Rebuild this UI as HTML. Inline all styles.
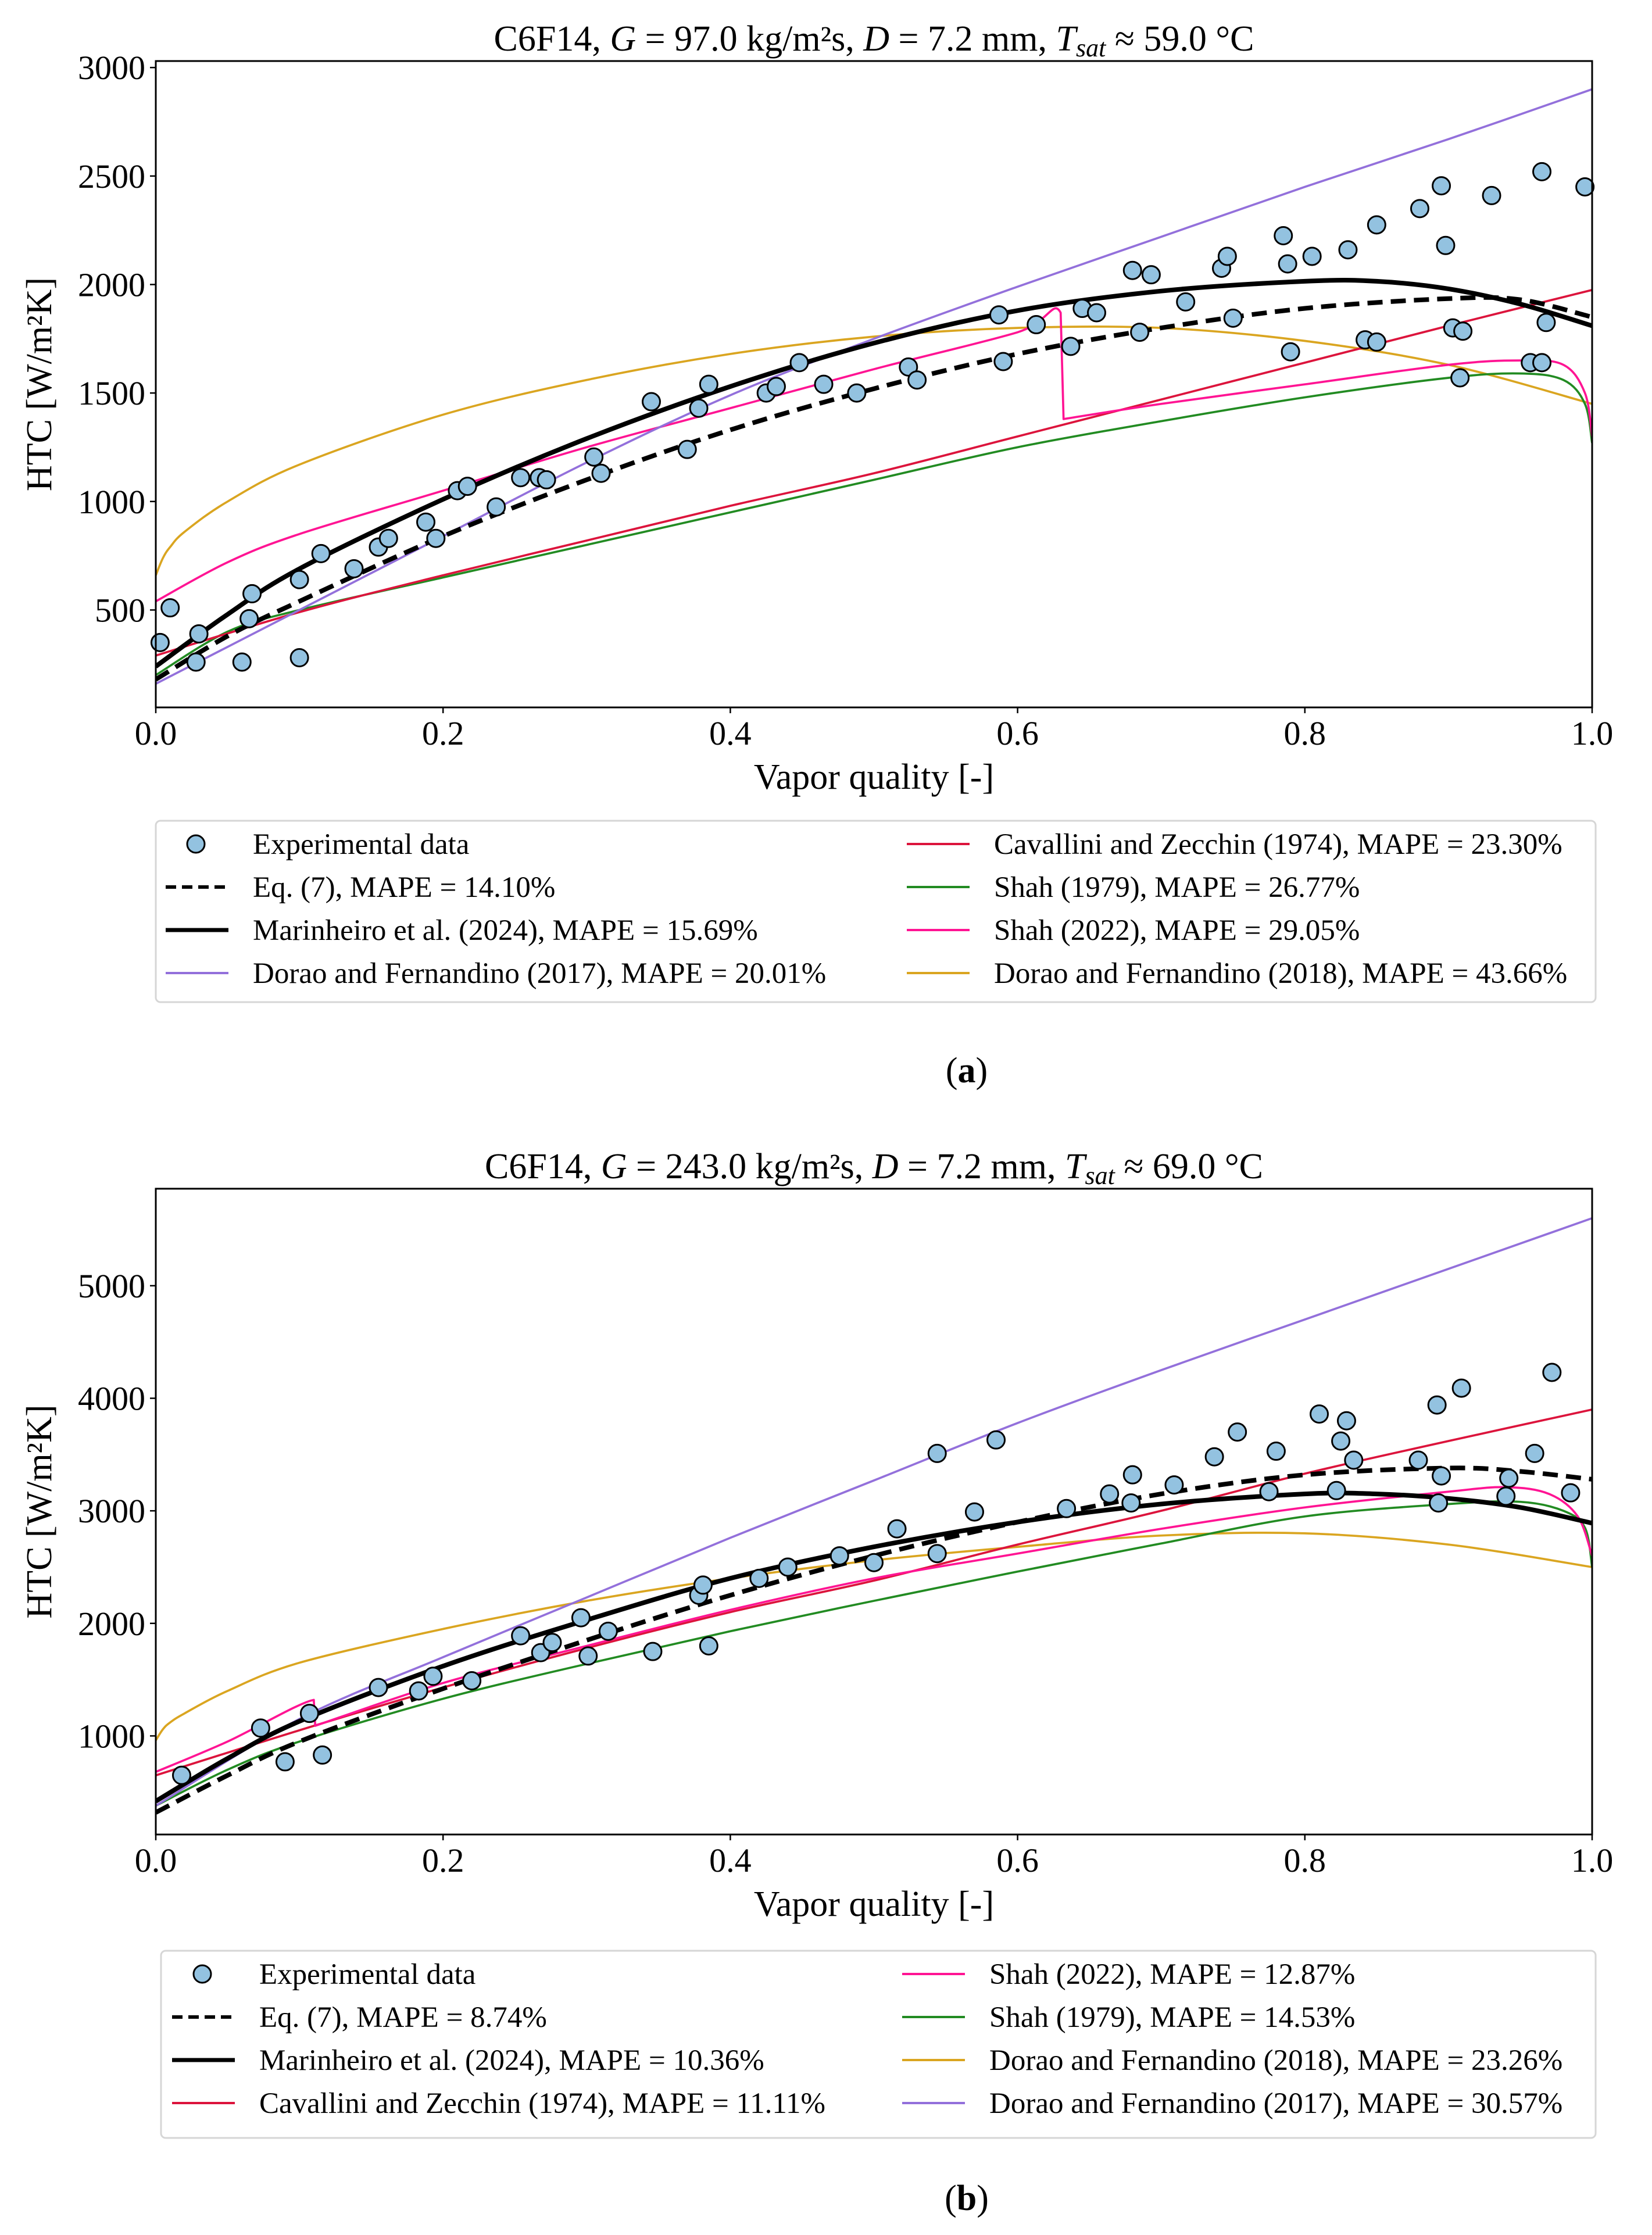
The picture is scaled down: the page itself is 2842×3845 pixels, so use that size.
<!DOCTYPE html>
<html><head><meta charset="utf-8">
<style>
html,body{margin:0;padding:0;background:#fff}
svg{display:block;font-family:"Liberation Serif",serif}
</style></head>
<body>
<svg id="fig" width="2842" height="3845" viewBox="0 0 2842 3845" xmlns="http://www.w3.org/2000/svg"></svg>
<script>
// ---------- Panel (a) data ----------
const aPointsX = [0.003,0.01,0.028,0.03,0.06,0.065,0.067,0.1,0.1,0.115,0.138,0.155,0.162,0.188,0.195,0.21,0.217,0.237,0.254,0.267,0.272,0.305,0.31,0.345,0.37,0.378,0.385,0.425,0.432,0.448,0.465,0.488,0.524,0.53,0.587,0.59,0.613,0.637,0.645,0.655,0.68,0.685,0.693,0.717,0.742,0.746,0.75,0.785,0.788,0.79,0.805,0.83,0.842,0.85,0.85,0.88,0.895,0.898,0.903,0.908,0.91,0.93,0.957,0.965,0.965,0.968,0.995];
const aPointsY = [350,510,260,390,260,460,575,280,640,760,690,790,830,905,830,1050,1070,975,1110,1110,1100,1205,1130,1460,1240,1430,1540,1500,1530,1640,1540,1500,1620,1560,1860,1645,1815,1715,1890,1870,2065,1780,2045,1920,2075,2130,1845,2225,2095,1690,2130,2160,1745,1735,2275,2350,2455,2180,1800,1570,1785,2410,1640,1640,2520,1825,2450];
const aEq7X = [0,0.05,0.1,0.2,0.3,0.4,0.5,0.6,0.7,0.8,0.9,0.95,1.0];
const aEq7Y = [180,380,540,840,1100,1330,1520,1680,1800,1890,1935,1930,1850];
const aMarX = [0,0.05,0.1,0.2,0.3,0.4,0.5,0.6,0.7,0.8,0.85,0.9,0.95,1.0];
const aMarY = [240,480,690,1010,1290,1530,1730,1880,1970,2015,2015,1980,1910,1810];
const aD17X = [0,0.1,0.2,0.3,0.4,0.5,0.6,0.7,0.8,0.9,1.0];
const aD17Y = [160,500,840,1180,1490,1750,1990,2220,2450,2670,2900];
const aCavX = [0,0.1,0.2,0.3,0.4,0.5,0.6,0.7,0.8,0.9,1.0];
const aCavY = [290,490,660,820,980,1130,1300,1470,1640,1810,1975];
const aS79X = [0,0.05,0.1,0.2,0.3,0.4,0.5,0.6,0.7,0.8,0.9,0.95,0.98,0.995,1.0];
const aS79Y = [200,400,500,650,800,950,1100,1250,1370,1480,1570,1590,1560,1450,1270];
const aS22X = [0,0.05,0.1,0.2,0.3,0.4,0.5,0.6,0.63,0.632,0.7,0.8,0.9,0.95,0.98,0.995,1.0];
const aS22Y = [540,720,850,1050,1250,1430,1610,1780,1870,1380,1450,1540,1630,1650,1630,1500,1300];
const aD18X = [0,0.005,0.01,0.02,0.05,0.1,0.2,0.3,0.4,0.5,0.6,0.7,0.8,0.9,1.0];
const aD18Y = [660,740,790,860,1000,1170,1400,1560,1680,1760,1800,1800,1740,1630,1450];
const aYTicks = [500,1000,1500,2000,2500,3000];
const xTicks = [0,0.2,0.4,0.6,0.8,1.0];
const xTickLabels = ["0.0","0.2","0.4","0.6","0.8","1.0"];

// ---------- Panel (b) data ----------
const bPointsX = [0.018,0.073,0.09,0.107,0.116,0.155,0.183,0.193,0.22,0.254,0.268,0.276,0.296,0.301,0.315,0.346,0.378,0.381,0.385,0.42,0.44,0.476,0.5,0.516,0.544,0.544,0.57,0.585,0.634,0.664,0.679,0.68,0.709,0.737,0.753,0.775,0.78,0.81,0.822,0.825,0.829,0.834,0.879,0.892,0.893,0.895,0.909,0.94,0.942,0.96,0.972,0.985];
const bPointsY = [650,1070,770,1200,830,1430,1400,1530,1490,1890,1740,1830,2050,1710,1930,1750,2250,2340,1800,2400,2500,2600,2540,2840,2620,3510,2990,3630,3020,3150,3070,3320,3230,3480,3700,3170,3530,3860,3180,3620,3800,3450,3450,3940,3070,3310,4090,3130,3290,3510,4230,3160];
const bEq7X = [0,0.05,0.1,0.2,0.3,0.4,0.5,0.6,0.7,0.8,0.9,0.95,1.0];
const bEq7Y = [320,650,950,1420,1850,2250,2600,2900,3150,3320,3380,3350,3280];
const bMarX = [0,0.05,0.1,0.2,0.3,0.4,0.5,0.6,0.7,0.8,0.85,0.9,0.95,1.0];
const bMarY = [420,800,1130,1620,2030,2400,2680,2900,3060,3150,3150,3110,3030,2890];
const bD17X = [0,0.1,0.2,0.3,0.4,0.5,0.6,0.7,0.8,0.9,1.0];
const bD17Y = [380,1150,1700,2230,2760,3270,3780,4250,4700,5150,5600];
const bCavX = [0,0.1,0.2,0.3,0.4,0.5,0.6,0.7,0.8,0.9,1.0];
const bCavY = [650,1050,1430,1780,2100,2380,2700,3000,3330,3620,3900];
const bS79X = [0,0.05,0.1,0.2,0.3,0.4,0.5,0.6,0.7,0.8,0.9,0.95,0.98,0.995,1.0];
const bS79Y = [380,700,950,1330,1640,1930,2200,2460,2710,2950,3060,3080,3000,2850,2500];
const bS22X = [0,0.05,0.11,0.111,0.2,0.3,0.4,0.5,0.6,0.7,0.8,0.9,0.94,0.97,0.99,1.0];
const bS22Y = [680,950,1320,1090,1470,1800,2120,2400,2620,2840,3030,3170,3210,3150,2950,2600];
const bD18X = [0,0.005,0.01,0.02,0.05,0.1,0.2,0.3,0.4,0.5,0.6,0.7,0.8,0.9,1.0];
const bD18Y = [960,1060,1120,1200,1400,1650,1950,2200,2400,2560,2680,2780,2800,2700,2500];
const bYTicks = [1000,2000,3000,4000,5000];

const NS = "http://www.w3.org/2000/svg";
const svg = document.getElementById('fig');
function mk(tag, attrs, parent){
  const e = document.createElementNS(NS, tag);
  for (const k in attrs) e.setAttribute(k, attrs[k]);
  (parent||svg).appendChild(e);
  return e;
}
const COL = {purple:"#9370DB", red:"#DC143C", green:"#228B22", pink:"#FF1493", orange:"#DAA520", pt:"#93C2E0"};

function smoothPath(pts){
  // split at jumps (nearly identical x), Catmull-Rom within segments
  const segs=[]; let cur=[pts[0]];
  for(let i=1;i<pts.length;i++){
    if (Math.abs(pts[i][0]-pts[i-1][0])<8){ cur.push(pts[i]); segs.push(cur); cur=[pts[i]]; }
    else cur.push(pts[i]);
  }
  segs.push(cur);
  let d='';
  segs.forEach((s,si)=>{
    if(si===0) d+='M'+s[0][0].toFixed(1)+','+s[0][1].toFixed(1);
    for(let i=0;i<s.length-1;i++){
      const p0=s[i-1]||s[i], p1=s[i], p2=s[i+1], p3=s[i+2]||s[i+1];
      if (Math.abs(p2[0]-p1[0])<8){ d+=' L'+p2[0].toFixed(1)+','+p2[1].toFixed(1); continue; }
      const c1=[p1[0]+(p2[0]-p0[0])/6, p1[1]+(p2[1]-p0[1])/6];
      const c2=[p2[0]-(p3[0]-p1[0])/6, p2[1]-(p3[1]-p1[1])/6];
      d+=' C'+c1.map(v=>v.toFixed(1)).join(',')+' '+c2.map(v=>v.toFixed(1)).join(',')+' '+p2[0].toFixed(1)+','+p2[1].toFixed(1);
    }
  });
  return d;
}

function panel(cfg){
  const L=268, R=2739, T=cfg.top, B=cfg.bottom;
  const sx = v => L + v*(R-L);
  const sy = v => B - (v-cfg.ymin)/(cfg.ymax-cfg.ymin)*(B-T);
  const g = mk('g', {});
  
  
  const clipId = 'clip-'+cfg.name;
  const cp = mk('clipPath', {id:clipId}, g);
  mk('rect', {x:L, y:T, width:R-L, height:B-T}, cp);
  const t = mk('text', {x:(L+R)/2, y:T-18, 'text-anchor':'middle', 'font-size':62}, g);
  
  
  t.innerHTML = cfg.title;
  const plot = mk('g', {'clip-path':'url(#'+clipId+')'}, g);
  
  
  cfg.series.forEach(s=>{
    const pts = s.x.map((x,i)=>[sx(x), sy(s.y[i])]);
    const p = mk('path', {d:smoothPath(pts), fill:'none', stroke:s.color, 'stroke-width':s.w, 'stroke-linejoin':'round', 'stroke-dasharray':s.dash||'none'}, plot);
    
    
  });
  cfg.px.forEach((x,i)=>{
    const c = mk('circle', {cx:sx(x), cy:sy(cfg.py[i]), r:15, fill:COL.pt, stroke:'#000', 'stroke-width':3}, g);
    
    
  });
  const frame = mk('rect', {x:L, y:T, width:R-L, height:B-T, fill:'none', stroke:'#000', 'stroke-width':3}, g);
  
  
  xTicks.forEach((v,i)=>{
    mk('line', {x1:sx(v), x2:sx(v), y1:B, y2:B+10, stroke:'#000', 'stroke-width':2.5}, g);
    const tl = mk('text', {x:sx(v), y:B+64, 'text-anchor':'middle', 'font-size':58}, g);
    
    
    tl.textContent = xTickLabels[i];
  });
  cfg.yticks.forEach(v=>{
    mk('line', {x1:L-10, x2:L, y1:sy(v), y2:sy(v), stroke:'#000', 'stroke-width':2.5}, g);
    const tl = mk('text', {x:L-18, y:sy(v)+20, 'text-anchor':'end', 'font-size':58}, g);
    
    
    tl.textContent = v;
  });
  const xt = mk('text', {x:(L+R)/2, y:B+140, 'text-anchor':'middle', 'font-size':62}, g);
  
  
  xt.textContent = 'Vapor quality [-]';
  const yc = (T+B)/2;
  const yt = mk('text', {x:0, y:0, 'text-anchor':'middle', 'font-size':62, transform:'translate(88,'+yc+') rotate(-90)'}, g);
  
  
  yt.textContent = 'HTC [W/m²K]';

  const lg = mk('g', {}, g);
  
  
  mk('rect', {x:cfg.leg.x, y:cfg.leg.y, width:cfg.leg.w, height:cfg.leg.h, rx:8, fill:'#fff', stroke:'#d6d6d6', 'stroke-width':3}, lg);
  cfg.leg.items.forEach((it,i)=>{
    const col = i<4?0:1, row = i%4;
    const hx = col? cfg.leg.rx : cfg.leg.lx;
    const yy = cfg.leg.y + 40 + row*74;
    const e = mk('g', {}, lg);
    
    
    if (it.marker){
      mk('circle', {cx:hx+52, cy:yy, r:15, fill:COL.pt, stroke:'#000', 'stroke-width':3}, e);
    } else {
      mk('line', {x1:hx, x2:hx+108, y1:yy, y2:yy, stroke:it.color, 'stroke-width':it.w, 'stroke-dasharray':it.dash||'none'}, e);
    }
    const tx = mk('text', {x:hx+150, y:yy+17, 'font-size':51}, e);
    tx.textContent = it.label;
  });
  const cap = mk('text', {x:1663, y:cfg.capY, 'text-anchor':'middle', 'font-size':62}, g);
  
  
  cap.innerHTML = cfg.cap;
}

const ser = (id,x,y,color,w,dash)=>({id,x,y,color,w,dash});
panel({
  name:'panel-a', top:105, bottom:1217, ymin:51, ymax:3030, yticks:aYTicks,
  title:'C6F14, <tspan font-style="italic">G</tspan> = 97.0 kg/m²s, <tspan font-style="italic">D</tspan> = 7.2 mm, <tspan font-style="italic">T</tspan><tspan font-style="italic" font-size="44" dy="10">sat</tspan><tspan dy="-10"> ≈  59.0 °C</tspan>',
  px:aPointsX, py:aPointsY,
  series:[
    ser('dorao-2018-line',aD18X,aD18Y,COL.orange,3.7),
    ser('shah-1979-line',aS79X,aS79Y,COL.green,3.7),
    ser('cavallini-line',aCavX,aCavY,COL.red,3.7),
    ser('shah-2022-line',aS22X,aS22Y,COL.pink,3.7),
    ser('dorao-2017-line',aD17X,aD17Y,COL.purple,3.7),
    ser('eq7-line',aEq7X,aEq7Y,'#000',8,'26,14'),
    ser('marinheiro-line',aMarX,aMarY,'#000',8)
  ],
  leg:{x:268,y:1412,w:2477,h:312,lx:285,rx:1560,items:[
    {marker:true,label:'Experimental data'},
    {color:'#000',w:6,dash:'18,10',label:'Eq. (7), MAPE = 14.10%'},
    {color:'#000',w:7,label:'Marinheiro et al. (2024), MAPE = 15.69%'},
    {color:COL.purple,w:4,label:'Dorao and Fernandino (2017), MAPE = 20.01%'},
    {color:COL.red,w:4,label:'Cavallini and Zecchin (1974), MAPE = 23.30%'},
    {color:COL.green,w:4,label:'Shah (1979), MAPE = 26.77%'},
    {color:COL.pink,w:4,label:'Shah (2022), MAPE = 29.05%'},
    {color:COL.orange,w:4,label:'Dorao and Fernandino (2018), MAPE = 43.66%'}
  ]},
  capY:1862, cap:'(<tspan font-weight="bold">a</tspan>)'
});
panel({
  name:'panel-b', top:2045, bottom:3156, ymin:124, ymax:5862, yticks:bYTicks,
  title:'C6F14, <tspan font-style="italic">G</tspan> = 243.0 kg/m²s, <tspan font-style="italic">D</tspan> = 7.2 mm, <tspan font-style="italic">T</tspan><tspan font-style="italic" font-size="44" dy="10">sat</tspan><tspan dy="-10"> ≈  69.0 °C</tspan>',
  px:bPointsX, py:bPointsY,
  series:[
    ser('dorao-2018-line',bD18X,bD18Y,COL.orange,3.7),
    ser('shah-1979-line',bS79X,bS79Y,COL.green,3.7),
    ser('cavallini-line',bCavX,bCavY,COL.red,3.7),
    ser('shah-2022-line',bS22X,bS22Y,COL.pink,3.7),
    ser('dorao-2017-line',bD17X,bD17Y,COL.purple,3.7),
    ser('eq7-line',bEq7X,bEq7Y,'#000',8,'26,14'),
    ser('marinheiro-line',bMarX,bMarY,'#000',8)
  ],
  leg:{x:277,y:3356,w:2468,h:322,lx:296,rx:1552,items:[
    {marker:true,label:'Experimental data'},
    {color:'#000',w:6,dash:'18,10',label:'Eq. (7), MAPE = 8.74%'},
    {color:'#000',w:7,label:'Marinheiro et al. (2024), MAPE = 10.36%'},
    {color:COL.red,w:4,label:'Cavallini and Zecchin (1974), MAPE = 11.11%'},
    {color:COL.pink,w:4,label:'Shah (2022), MAPE = 12.87%'},
    {color:COL.green,w:4,label:'Shah (1979), MAPE = 14.53%'},
    {color:COL.orange,w:4,label:'Dorao and Fernandino (2018), MAPE = 23.26%'},
    {color:COL.purple,w:4,label:'Dorao and Fernandino (2017), MAPE = 30.57%'}
  ]},
  capY:3802, cap:'(<tspan font-weight="bold">b</tspan>)'
});
</script>
</body></html>
